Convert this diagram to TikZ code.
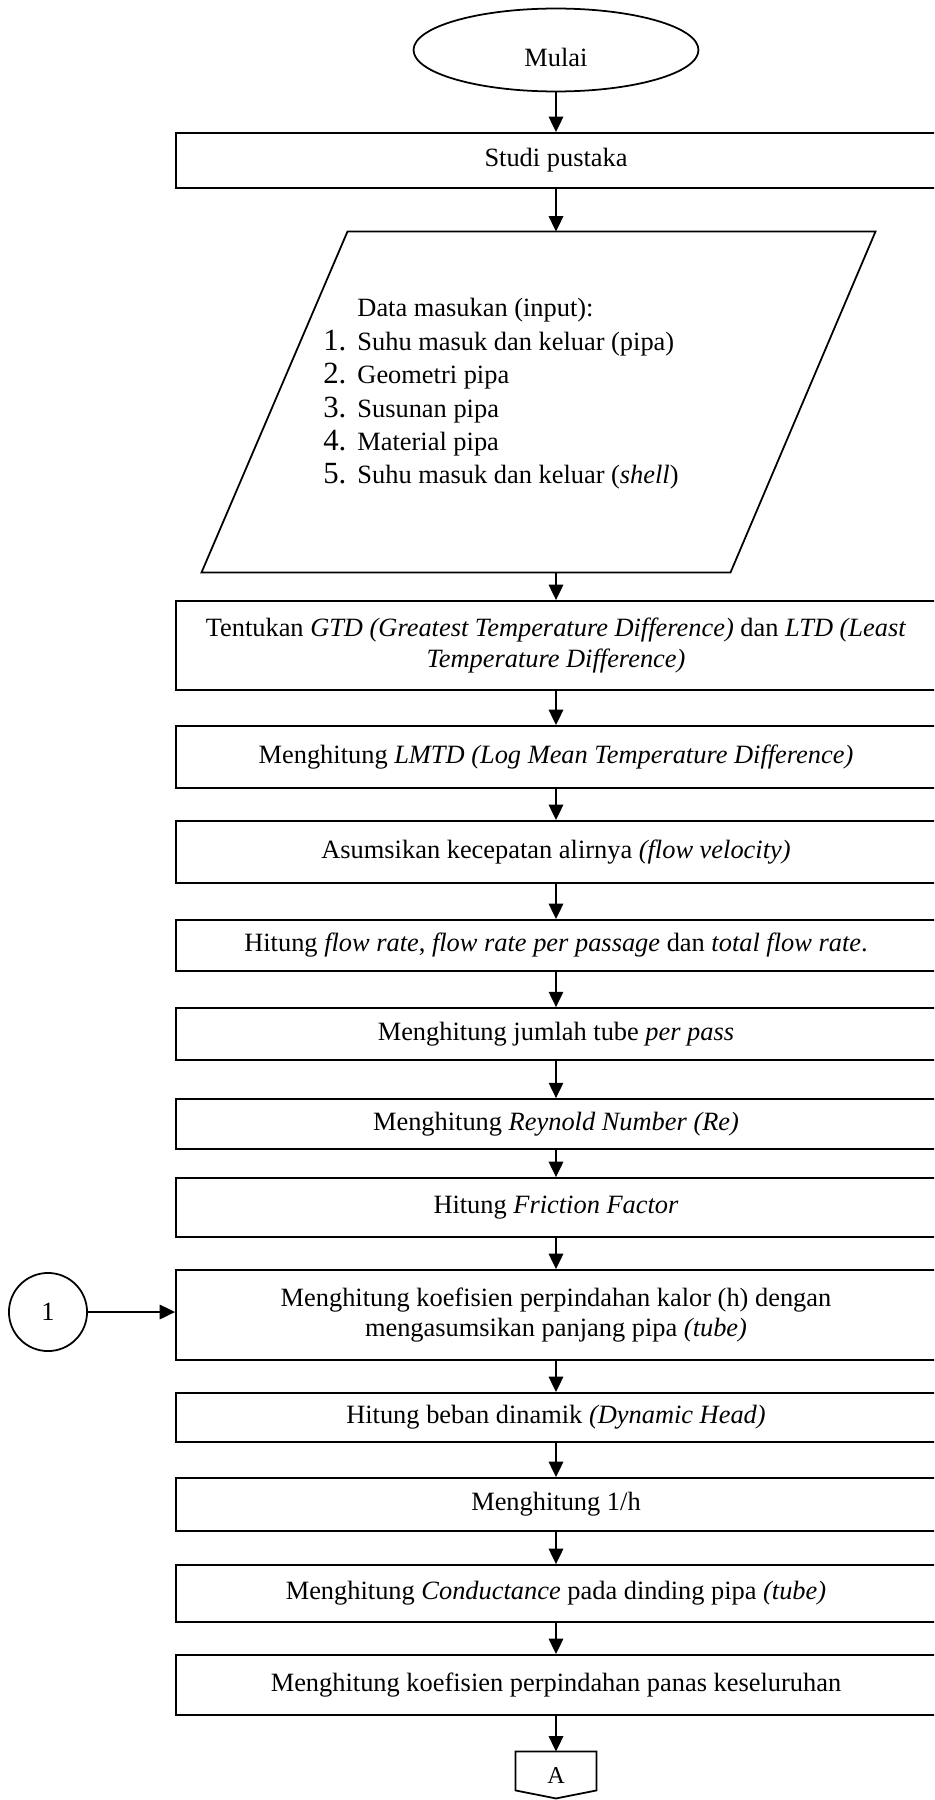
\documentclass[tikz,border=0pt]{standalone}
\usepackage{fontspec}
\setmainfont{Liberation Serif}
\usetikzlibrary{shapes.geometric,arrows.meta,calc}

\begin{document}
\begin{tikzpicture}[x=0.4545pt, y=-0.4545pt, >={Triangle[length=7pt,width=6.5pt]}]
    \tikzstyle{every node} = [font=\fontsize{12}{13.8}\selectfont]
    \tikzstyle{proc} = [draw, line width=0.8pt, rectangle, minimum width=345.4pt, inner sep=2pt, align=center]
    \tikzstyle{link} = [->, line width=1pt]
    \tikzstyle{edge} = [line width=0.8pt]

    \useasboundingbox (0,0) rectangle (934,1800);
    \clip (0,0) rectangle (934,1800);

    % start
    \node [draw, edge, ellipse, minimum width=129.5pt, minimum height=37.7pt, inner sep=0, text height=14.8pt, text depth=0pt] (mulai) at (556,50) {Mulai};
    \node [proc, minimum height=25pt] (studi) at (556,160.5) {Studi pustaka};

    % input data
    \node [inner sep=0, minimum width=305.9pt, minimum height=154.5pt] (data) at (538.5,402) {};
    \draw [edge] (data.south west) -- ++(529,0) -- (data.north east) -- ++(-528,0) -- cycle;
    \node [anchor=north west, inner sep=0, align=left, font=\fontsize{12}{15.2}\selectfont] (datatxt) at (357,298) {%
      Data masukan (input):\\
      \llap{{\fontsize{14}{15}\selectfont 1.}\hspace{5pt}}Suhu masuk dan keluar (pipa)\\
      \llap{{\fontsize{14}{15}\selectfont 2.}\hspace{5pt}}Geometri pipa\\
      \llap{{\fontsize{14}{15}\selectfont 3.}\hspace{5pt}}Susunan pipa\\
      \llap{{\fontsize{14}{15}\selectfont 4.}\hspace{5pt}}Material pipa\\
      \llap{{\fontsize{14}{15}\selectfont 5.}\hspace{5pt}}Suhu masuk dan keluar (\textit{shell})};

    % process steps
    \node [proc, minimum height=40.45pt] (gtd) at (556,645.5) {Tentukan \textit{GTD (Greatest Temperature Difference)} dan \textit{LTD (Least}\\\textit{Temperature Difference)}};
    \node [proc, minimum height=28.2pt] (lmtd) at (556,757) {Menghitung \textit{LMTD (Log Mean Temperature Difference)}};
    \node [proc, minimum height=28.2pt] (asumsi) at (556,852) {Asumsikan kecepatan alirnya \textit{(flow velocity)}};
    \node [proc, minimum height=23.2pt] (flowrate) at (556,945.5) {Hitung \textit{flow rate}, \textit{flow rate per passage} dan \textit{total flow rate}.};
    \node [proc, minimum height=23.6pt] (jumlah) at (556,1034) {Menghitung jumlah tube \textit{per pass}};
    \node [proc, minimum height=22.7pt] (reynold) at (556,1124) {Menghitung \textit{Reynold Number (Re)}};
    \node [proc, minimum height=26.8pt] (friction) at (556,1207.5) {Hitung \textit{Friction Factor}};
    \node [proc, minimum height=40.9pt] (koef) at (556,1315) {Menghitung koefisien perpindahan kalor (h) dengan\\mengasumsikan panjang pipa \textit{(tube)}};
    \node [proc, minimum height=22.3pt] (dynamic) at (556,1417.5) {Hitung beban dinamik \textit{(Dynamic Head)}};
    \node [proc, minimum height=24.1pt] (invh) at (556,1504.5) {Menghitung 1/h};
    \node [proc, minimum height=25.9pt] (conduct) at (556,1593.5) {Menghitung \textit{Conductance} pada dinding pipa \textit{(tube)}};
    \node [proc, minimum height=27.3pt] (overall) at (556,1685) {Menghitung koefisien perpindahan panas keseluruhan};

    % connectors
    \node [draw, edge, circle, minimum size=35.5pt, inner sep=0] (one) at (48,1312) {1};
    \node [inner sep=0, minimum width=36.4pt, minimum height=20.9pt, font=\fontsize{11}{13}\selectfont] (conA) at (556,1775) {A};
    \draw [edge] (conA.north west) -- (conA.north east) -- ($(conA.south east)+(0,-8)$) -- (conA.south) -- ($(conA.south west)+(0,-8)$) -- cycle;

    % arrows
    \draw [link] (mulai) -- (studi);
    \draw [link] (studi) -- (studi |- data.north);
    \draw [link] (gtd |- data.south) -- (gtd);
    \draw [link] (gtd) -- (lmtd);
    \draw [link] (lmtd) -- (asumsi);
    \draw [link] (asumsi) -- (flowrate);
    \draw [link] (flowrate) -- (jumlah);
    \draw [link] (jumlah) -- (reynold);
    \draw [link] (reynold) -- (friction);
    \draw [link] (friction) -- (koef);
    \draw [link] (koef) -- (dynamic);
    \draw [link] (dynamic) -- (invh);
    \draw [link] (invh) -- (conduct);
    \draw [link] (conduct) -- (overall);
    \draw [link] (overall) -- (conA);
    \draw [link] (one) -- (one -| koef.west);
\end{tikzpicture}
\end{document}
